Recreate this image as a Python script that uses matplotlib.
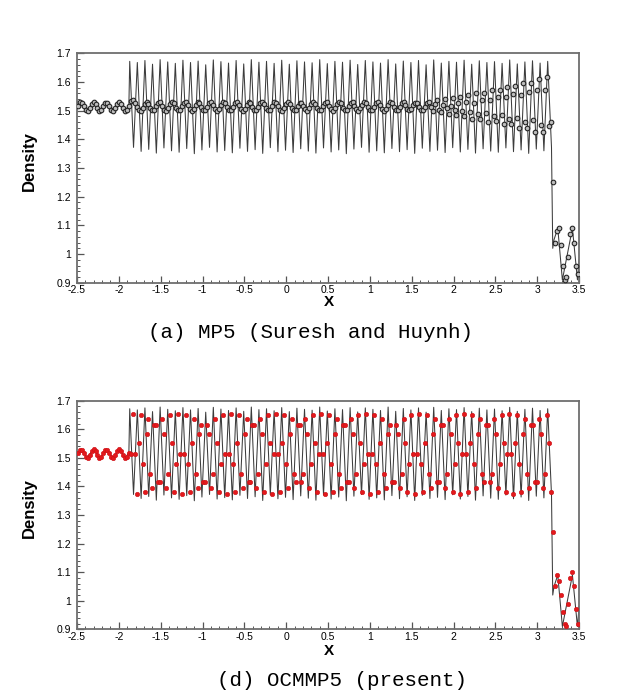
import matplotlib.pyplot as plt
import numpy as np
from matplotlib.ticker import MultipleLocator, FormatStrFormatter

plt.rcParams['font.family'] = ['Liberation Sans', 'DejaVu Sans']

# ---- reference solution (thin line) ----
left_x = [-2.5, -2.456, -2.38, -2.305, -2.225, -2.145, -2.07, -1.998, -1.92, -1.88]
left_y = [1.51, 1.53, 1.50, 1.53, 1.50, 1.53, 1.50, 1.53, 1.50, 1.52]

wave_start, wave_end = -1.87, 3.17
wave_peaks = [
    1.672, 1.668, 1.675, 1.662, 1.678, 1.670, 1.665, 1.676, 1.668, 1.673,
    1.660, 1.677, 1.671, 1.666, 1.675, 1.663, 1.678, 1.669, 1.672, 1.665,
    1.676, 1.662, 1.674, 1.670, 1.667, 1.678, 1.664, 1.672, 1.669, 1.676,
    1.661, 1.675, 1.670, 1.666, 1.678, 1.663, 1.673, 1.668, 1.675, 1.660,
    1.677, 1.666, 1.672, 1.669, 1.676, 1.662, 1.674, 1.668, 1.671, 1.665,
    1.677, 1.663, 1.670, 1.674, 1.666, 1.672]
wave_troughs = [
    1.372, 1.358, 1.365, 1.352, 1.370, 1.360, 1.355, 1.368, 1.350, 1.363,
    1.372, 1.356, 1.361, 1.353, 1.369, 1.358, 1.364, 1.351, 1.371, 1.357,
    1.362, 1.354, 1.367, 1.359, 1.352, 1.370, 1.356, 1.363, 1.350, 1.366,
    1.372, 1.355, 1.360, 1.353, 1.368, 1.357, 1.364, 1.351, 1.369, 1.358,
    1.362, 1.354, 1.371, 1.356, 1.365, 1.352, 1.367, 1.359, 1.355, 1.370,
    1.357, 1.363, 1.351, 1.366, 1.360, 1.372]

post_x = [3.185, 3.20, 3.245, 3.30, 3.42, 3.48, 3.50]
post_y = [1.02, 1.05, 1.09, 0.91, 1.09, 0.91, 0.98]

# ---- numerical solutions (symbols) ----
# upstream of the wave train, both schemes give the same small wave
calm_dots = [1.518, 1.529, 1.528, 1.516, 1.503, 1.500, 1.510, 1.524, 1.530,
             1.523, 1.509, 1.500, 1.504, 1.517, 1.528, 1.528, 1.517, 1.503,
             1.500, 1.509, 1.523, 1.530, 1.524, 1.509, 1.500, 1.503, 1.516]

mp5_wave = [
    1.535, 1.538, 1.528, 1.514, 1.502, 1.500, 1.509, 1.523, 1.530, 1.524, 1.510, 1.501, 1.503,
    1.516, 1.528, 1.529, 1.518, 1.504, 1.500, 1.508, 1.522, 1.530, 1.525, 1.511, 1.501, 1.502,
    1.515, 1.527, 1.530, 1.519, 1.505, 1.500, 1.507, 1.521, 1.530, 1.526, 1.512, 1.502, 1.502,
    1.514, 1.527, 1.530, 1.520, 1.506, 1.500, 1.506, 1.520, 1.530, 1.527, 1.513, 1.502, 1.501,
    1.513, 1.526, 1.530, 1.521, 1.507, 1.500, 1.505, 1.519, 1.529, 1.527, 1.514, 1.503, 1.501,
    1.512, 1.525, 1.530, 1.522, 1.508, 1.501, 1.504, 1.518, 1.529, 1.528, 1.515, 1.504, 1.500,
    1.511, 1.524, 1.530, 1.523, 1.509, 1.501, 1.503, 1.517, 1.528, 1.528, 1.516, 1.505, 1.500,
    1.510, 1.523, 1.530, 1.524, 1.510, 1.501, 1.503, 1.516, 1.528, 1.529, 1.517, 1.505, 1.500,
    1.509, 1.522, 1.529, 1.525, 1.511, 1.502, 1.502, 1.515, 1.527, 1.529, 1.518, 1.506, 1.500,
    1.508, 1.521, 1.529, 1.526, 1.512, 1.502, 1.502, 1.514, 1.526, 1.530, 1.519, 1.507, 1.500,
    1.507, 1.520, 1.529, 1.526, 1.513, 1.503, 1.501, 1.513, 1.526, 1.530, 1.520, 1.507, 1.501,
    1.506, 1.519, 1.528, 1.527, 1.514, 1.503, 1.501, 1.512, 1.525,
    # scatter grows towards the shock
    1.530, 1.512, 1.498, 1.522, 1.536, 1.503, 1.494, 1.520, 1.541, 1.508, 1.488, 1.518,
    1.543, 1.502, 1.486, 1.528, 1.548, 1.498, 1.482, 1.531, 1.556, 1.497, 1.472, 1.526,
    1.561, 1.488, 1.472, 1.538, 1.563, 1.493, 1.462, 1.537, 1.572, 1.482, 1.463, 1.548,
    1.571, 1.484, 1.452, 1.547, 1.583, 1.471, 1.454, 1.559, 1.586, 1.476, 1.438, 1.556,
    1.598, 1.462, 1.441, 1.566, 1.596, 1.466, 1.427, 1.573, 1.612, 1.451, 1.424, 1.571,
    1.618, 1.448, 1.460]

ocmmp5_wave = [
    1.515, 1.655, 1.515, 1.375, 1.551, 1.650, 1.479, 1.380, 1.585, 1.636, 1.445, 1.394,
    1.614, 1.614, 1.416, 1.416, 1.636, 1.585, 1.394, 1.445, 1.650, 1.551, 1.380, 1.479,
    1.655, 1.515, 1.375, 1.515, 1.650, 1.479, 1.380, 1.551, 1.636, 1.445, 1.394, 1.585,
    1.614, 1.416, 1.416, 1.614, 1.585, 1.394, 1.445, 1.636, 1.551, 1.380, 1.479, 1.650,
    1.515, 1.375, 1.515, 1.655, 1.479, 1.380, 1.551, 1.650, 1.445, 1.394, 1.585, 1.636,
    1.416, 1.416, 1.614, 1.614, 1.394, 1.445, 1.636, 1.585, 1.380, 1.479, 1.650, 1.551,
    1.375, 1.515, 1.655, 1.515, 1.380, 1.551, 1.650, 1.479, 1.394, 1.585, 1.636, 1.445,
    1.416, 1.614, 1.614, 1.416, 1.445, 1.636, 1.585, 1.394, 1.479, 1.650, 1.551, 1.380,
    1.515, 1.655, 1.515, 1.375, 1.551, 1.650, 1.479, 1.380, 1.585, 1.636, 1.445, 1.394,
    1.614, 1.614, 1.416, 1.416, 1.636, 1.585, 1.394, 1.445, 1.650, 1.551, 1.380, 1.479,
    1.655, 1.515, 1.375, 1.515, 1.650, 1.479, 1.380, 1.551, 1.636, 1.445, 1.394, 1.585,
    1.614, 1.416, 1.416, 1.614, 1.585, 1.394, 1.445, 1.636, 1.551, 1.380, 1.479, 1.650,
    1.515, 1.375, 1.515, 1.655, 1.479, 1.380, 1.551, 1.650, 1.445, 1.394, 1.585, 1.636,
    1.416, 1.416, 1.614, 1.614, 1.394, 1.445, 1.636, 1.585, 1.380, 1.479, 1.650, 1.551,
    1.375, 1.515, 1.655, 1.515, 1.380, 1.551, 1.650, 1.479, 1.394, 1.585, 1.636, 1.445,
    1.416, 1.614, 1.614, 1.416, 1.445, 1.636, 1.585, 1.394, 1.479, 1.650, 1.551, 1.380,
    1.515, 1.655, 1.515, 1.375, 1.551, 1.650, 1.479, 1.380, 1.585, 1.636, 1.445, 1.394,
    1.614, 1.614, 1.416, 1.416, 1.636, 1.585, 1.394, 1.445, 1.650, 1.551, 1.380]

mp5_post = [1.25, 1.04, 1.08, 1.09, 1.03, 0.96, 0.91, 0.92, 0.99, 1.07, 1.09, 1.04, 0.96, 0.93]
ocmmp5_post = [1.24, 1.05, 1.09, 1.07, 1.02, 0.96, 0.92, 0.91, 0.99, 1.08, 1.10, 1.05, 0.97, 0.92]

captions = ['(a) MP5 (Suresh and Huynh)', '(d) OCMMP5 (present)']


def dot_positions(n_left, n_wave, n_post):
    return np.concatenate([np.linspace(-2.49, -1.88, n_left),
                           np.linspace(-1.857, 3.16, n_wave),
                           np.linspace(3.185, 3.49, n_post)])


# build the reference line
wave_x = np.linspace(wave_start, wave_end, 2 * len(wave_peaks))
wave_y = np.empty(2 * len(wave_peaks))
wave_y[0::2] = wave_peaks
wave_y[1::2] = wave_troughs
line_x = np.concatenate([left_x, wave_x, post_x])
line_y = np.concatenate([left_y, wave_y, post_y])

fig = plt.figure(figsize=(6.38, 6.96), dpi=100)
ax1 = fig.add_axes([0.1207, 0.5938, 0.787, 0.3296])
ax2 = fig.add_axes([0.1207, 0.0958, 0.787, 0.3284])

mp5_y = np.concatenate([calm_dots, mp5_wave, mp5_post])
oc_y = np.concatenate([calm_dots, ocmmp5_wave, ocmmp5_post])
mp5_x = dot_positions(len(calm_dots), len(mp5_wave), len(mp5_post))
oc_x = dot_positions(len(calm_dots), len(ocmmp5_wave), len(ocmmp5_post))

for ax in (ax1, ax2):
    ax.plot(line_x, line_y, color='#3c3c3c', lw=0.75, zorder=2)

ax1.plot(mp5_x, mp5_y, 'o', ms=3.3, mfc='#bdbdbd', mec='#252525', mew=0.8,
         ls='none', zorder=3)
ax2.plot(oc_x, oc_y, 'o', ms=3.2, mfc='#e3191c', mec='#cc1016', mew=0.4,
         ls='none', zorder=3)

for ax in (ax1, ax2):
    ax.set_xlim(-2.5, 3.5)
    ax.set_ylim(0.9, 1.7)
    ax.xaxis.set_major_locator(MultipleLocator(0.5))
    ax.xaxis.set_minor_locator(MultipleLocator(0.1))
    ax.yaxis.set_major_locator(MultipleLocator(0.1))
    ax.yaxis.set_minor_locator(MultipleLocator(0.02))
    ax.xaxis.set_major_formatter(FormatStrFormatter('%g'))
    ax.yaxis.set_major_formatter(FormatStrFormatter('%g'))
    ax.tick_params(which='both', direction='in', top=False, right=False,
                   labelsize=7.5, color='#555555')
    ax.tick_params(which='major', length=5, width=0.9, pad=2)
    ax.tick_params(axis='y', which='major', pad=4.5)
    ax.tick_params(which='minor', length=2.5, width=0.7)
    for s in ax.spines.values():
        s.set_color('#6e6e6e')
        s.set_linewidth(1.3)
    ax.set_ylabel('Density', fontweight='bold', fontsize=12)
    ax.yaxis.set_label_coords(-0.08, 0.53)

fig.text(329 / 638, 1 - 302 / 696, 'X', fontweight='bold', fontsize=11,
         ha='center', va='center')
fig.text(329 / 638, 1 - 651 / 696, 'X', fontweight='bold', fontsize=11,
         ha='center', va='center')

fig.text(310 / 638, 1 - 332 / 696, captions[0], ha='center', va='center',
         family='Liberation Mono', fontsize=15)
fig.text(342 / 638, 1 - 680 / 696, captions[1], ha='center', va='center',
         family='Liberation Mono', fontsize=15)

fig.savefig('out.png', dpi=100)
